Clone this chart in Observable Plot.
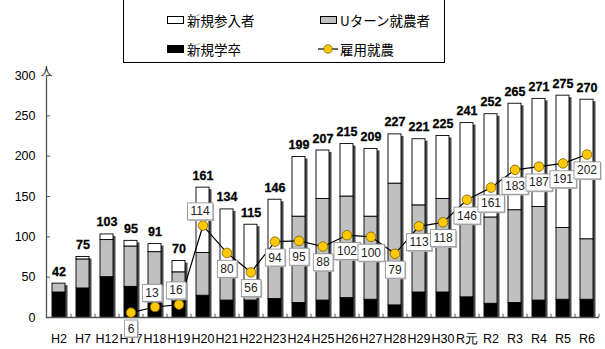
<!DOCTYPE html>
<html><head><meta charset="utf-8">
<script src="https://cdn.jsdelivr.net/npm/d3@7"></script>
<script src="https://cdn.jsdelivr.net/npm/@observablehq/plot@0.6"></script>
<style>
body{margin:0;background:#fff;font-family:"Liberation Sans",Arial,sans-serif;}
#wrap{position:relative;width:605px;height:349px;overflow:hidden;}
#legend{position:absolute;left:123px;top:-1px;width:322px;height:64px;border:1px solid #000;box-sizing:border-box;background:#fff;font-family:"Noto Sans CJK JP",sans-serif;font-size:13.5px;color:#000;}
.item{position:absolute;display:flex;align-items:center;height:18px;line-height:18px;white-space:nowrap;}
.sw{width:15px;height:6px;border:1px solid #000;margin-right:3px;}
</style></head><body><div id="wrap"><div id="legend"></div></div>
<script>
const years = ["H2","H7","H12","H17","H18","H19","H20","H21","H22","H23","H24","H25","H26","H27","H28","H29","H30","R元","R2","R3","R4","R5","R6"];
// 新規学卒 (black)
const shinkiGakusotsu = [31,36,50,38,25,20,27,21,21,23,18,21,24,22,15,31,31,25,17,18,21,22,22];
// Uターン就農者 (gray)
const uturn = [11,36,46,50,56,36,53,44,24,57,107,126,126,103,151,108,116,103,107,115,116,89,75];
// 新規参入者 (white)
const shinkiSannyu = [0,3,7,7,10,14,81,69,70,66,74,60,65,84,61,82,78,113,128,132,134,164,173];
// 雇用就農 (line)
const koyoYears = ["H17","H18","H19","H20","H21","H22","H23","H24","H25","H26","H27","H28","H29","H30","R元","R2","R3","R4","R5","R6"];
const koyo = [6,13,16,114,80,56,94,95,88,102,100,79,113,118,146,161,183,187,191,202];
const koyoLabelAbove = ["H18","H19","H20"];
const seriesNames = ["新規学卒","Uターン就農者","新規参入者"];
const seriesColors = ["#000000","#c0c0c0","#ffffff"];
const lineName = "雇用就農";
const yTicks = [0,50,100,150,200,250,300];
const unitLabel = "人";

const table = [];
years.forEach((yr,i)=>{
  [shinkiGakusotsu[i], uturn[i], shinkiSannyu[i]].forEach((v,j)=>table.push({year:yr, series:seriesNames[j], value:v}));
});
const totals = years.map((yr,i)=>({year:yr, total: shinkiGakusotsu[i]+uturn[i]+shinkiSannyu[i]}));
const lineData = koyoYears.map((yr,i)=>({year:yr, value:koyo[i]}));
const unitData = [{y: yTicks[yTicks.length-1], u: unitLabel}];

const W = 605, H = 349, mL = 46, mR = 6;
const halfStep = (W - mL - mR) / years.length / 2;

const chart = Plot.plot({
  width: W, height: H,
  marginLeft: mL, marginRight: mR, marginTop: 75, marginBottom: 32,
  style: {fontFamily: "Liberation Sans, Arial, sans-serif", background: "#fff", color:"#000"},
  x: {domain: years, paddingInner: 0.47, paddingOuter: 0.235, label: null},
  y: {domain: [0,300], label: null},
  color: {domain: seriesNames, range: seriesColors},
  marks: [
    Plot.rectY(totals, {x: "year", y: "total", fill: "#4a4a4a", dx: 2.5, dy: 2, insetBottom: 2}),
    Plot.barY(table, {x: "year", y: "value", fill: "series", stroke: "#000", strokeWidth: 0.9, order: seriesNames}),
    Plot.ruleX(years, {x: d=>d, y1: 0, y2: 4, dx: halfStep, stroke: "#555"}),
    Plot.frame({anchor: "left", stroke: "#555", strokeWidth: 1.3}),
    Plot.ruleY([0], {stroke: "#555", strokeWidth: 1.3}),
    Plot.axisY({ticks: yTicks, tickSize: -4, tickPadding: 15, fontSize: 12.5, stroke:"#555"}),
    Plot.axisX({tickSize: 0, tickPadding: 17, fontSize: 12.5}),
    Plot.text(unitData, {y: "y", text: "u", frameAnchor: "left", textAnchor: "middle", dy: -3, fontSize: 12, fontFamily: "Noto Sans CJK JP", fill: "#222"}),
    Plot.text(totals, {x: "year", y: "total", text: d=>String(d.total), dy: -12, fontSize: 12.5, fontWeight: "bold", fill: "#000", stroke: "#000", strokeWidth: 0.3}),
    Plot.line(lineData, {x: "year", y: "value", stroke: "#000", strokeWidth: 1.2}),
    Plot.dot(lineData, {x: "year", y: "value", r: 4.8, fill: "#ffc800", stroke: "#7a6000", strokeWidth: 0.8}),
    Plot.text(lineData.filter(d=>!koyoLabelAbove.includes(d.year)), {x: "year", y: "value", text: d=>String(d.value), dy: 16, fontSize: 12, fill: "#222", className: "lbl"}),
    Plot.text(lineData.filter(d=>koyoLabelAbove.includes(d.year)), {x: "year", y: "value", text: d=>String(d.value), dy: -14, dx: -3, fontSize: 12, fill: "#222", className: "lbl"})
  ]
});
document.getElementById("wrap").prepend(chart);
chart.style.position = "absolute"; chart.style.left = "0"; chart.style.top = "0";

// boxes behind the 雇用就農 labels
chart.querySelectorAll("g.lbl").forEach(g=>{
  g.querySelectorAll("text").forEach(t=>{
    const b = t.getBBox();
    const tr = t.getAttribute("transform") || "";
    const ns = "http://www.w3.org/2000/svg";
    const mk = (off, fill, stroke) => {
      const r = document.createElementNS(ns,"rect");
      r.setAttribute("x", b.x-3+off); r.setAttribute("y", b.y-1.5+off);
      r.setAttribute("width", b.width+6); r.setAttribute("height", b.height+3);
      r.setAttribute("fill", fill);
      if (stroke) { r.setAttribute("stroke", stroke); r.setAttribute("stroke-width", "0.8"); }
      if (tr) r.setAttribute("transform", tr);
      return r;
    };
    g.insertBefore(mk(1.2, "#bbb"), t);
    g.insertBefore(mk(0, "#fff", "#888"), t);
  });
});

// legend
const legend = document.getElementById("legend");
const legendItems = [
  {name: seriesNames[2], color: seriesColors[2], left: 43, top: 11},
  {name: seriesNames[1], color: seriesColors[1], left: 196, top: 11},
  {name: seriesNames[0], color: seriesColors[0], left: 43, top: 40},
  {name: lineName, line: true, left: 194, top: 40}
];
legendItems.forEach(it=>{
  const d = document.createElement("div");
  d.className = "item"; d.style.left = it.left+"px"; d.style.top = it.top+"px";
  if (it.line) {
    d.innerHTML = '<svg width="20" height="12" style="margin-right:2px"><line x1="0" y1="6" x2="20" y2="6" stroke="#000" stroke-width="1.2"/><circle cx="10" cy="6" r="4.2" fill="#ffc800" stroke="#7a6000" stroke-width="0.8"/></svg>';
  } else {
    d.innerHTML = '<div class="sw" style="background:'+it.color+'"></div>';
  }
  const s = document.createElement("span"); s.textContent = it.name; d.appendChild(s);
  legend.appendChild(d);
});
</script></body></html>
